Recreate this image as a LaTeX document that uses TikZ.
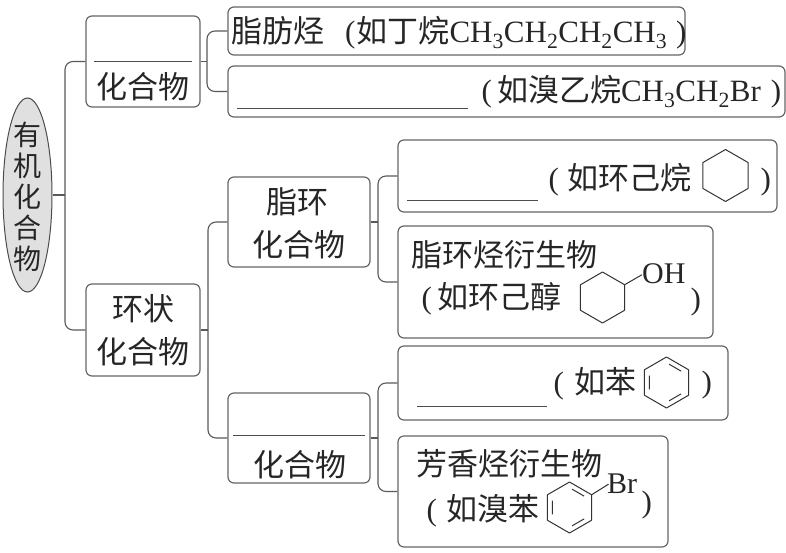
\documentclass[tikz,border=0pt]{standalone}
\usepackage{fontspec}
\setmainfont{Liberation Serif}
\newfontfamily\cjk{Noto Sans CJK SC}
\newcommand{\zh}[1]{{\cjk #1}}
\usetikzlibrary{shapes.geometric}

\begin{document}
\begin{tikzpicture}[x=1pt,y=-1pt,
    box/.style={draw=black!60,line width=1.2pt,rounded corners=6pt,inner sep=0pt},
    link/.style={draw=black!65,line width=1.1pt,rounded corners=8pt},
    txt/.style={inner sep=0pt,text=black!85,font=\fontsize{31}{36}\selectfont},
    blank/.style={draw=black!70,line width=1pt},
    bond/.style={draw=black!80,line width=1pt,line join=round}]
\useasboundingbox (0,0) rectangle (786,552);

% root
\node (org) at (27.5,195) [ellipse,draw=black!70,fill=black!12,line width=1pt,minimum width=49pt,minimum height=194pt,inner sep=0pt] {};
\node (orgtx) at (27.5,196.5) [txt,align=center,font=\cjk\fontsize{28}{31}\selectfont] {有\\机\\化\\合\\物};

% first level
\node (chain) at (143,61.5) [box,minimum width=114pt,minimum height=91pt] {};
\node (ring) at (143,330) [box,minimum width=114pt,minimum height=92pt] {};

% second level
\node (alkane) at (456.5,31) [box,minimum width=457pt,minimum height=48pt] {};
\node (haloalk) at (506.5,91.5) [box,minimum width=557pt,minimum height=51pt] {};
\node (alicyc) at (299,222) [box,minimum width=142pt,minimum height=90pt] {};
\node (arom) at (299,438) [box,minimum width=142pt,minimum height=90pt] {};

% third level
\node (cycalk) at (587.5,176) [box,minimum width=379pt,minimum height=72pt] {};
\node (cycderiv) at (555.5,282) [box,minimum width=315pt,minimum height=112pt] {};
\node (benz) at (563,383) [box,minimum width=330pt,minimum height=74pt] {};
\node (benzderiv) at (533,491.5) [box,minimum width=270pt,minimum height=111pt] {};

% brackets
\coordinate (j0) at (65,195);
\coordinate (j1) at (207,61.5);
\coordinate (j2) at (208,330);
\coordinate (j3) at (378,222);
\coordinate (j4) at (378,438);
\draw[link] (org.east) -- (j0);
\draw[link] (chain.west) -| (j0) |- (ring.west);
\draw[link] (chain.east) -- (j1);
\draw[link] (alkane.west) -| (j1) |- (haloalk.west);
\draw[link] (ring.east) -- (j2);
\draw[link] (alicyc.west) -| (j2) |- (arom.west);
\draw[link] (alicyc.east) -- (j3);
\draw[link] (cycalk.west) -| (j3) |- (cycderiv.west);
\draw[link] (arom.east) -- (j4);
\draw[link] (benz.west) -| (j4) |- (benzderiv.west);

% blanks
\draw[blank] (94,61.7) -- (192,61.7);
\draw[blank] (237,108.3) -- (468,108.3);
\draw[blank] (407,200) -- (538,200);
\draw[blank] (233,435.7) -- (365,435.7);
\draw[blank] (417,406.7) -- (547,406.7);

% texts
\node (chaintx) at (143,98.5) [txt,anchor=base] {\zh{化合物}};
\node (ringtx1) at (143.5,320.5) [txt,anchor=base] {\zh{环状}};
\node (ringtx2) at (142.5,363.5) [txt,anchor=base] {\zh{化合物}};
\node (alicyctx1) at (297.5,213.5) [txt,anchor=base] {\zh{脂环}};
\node (alicyctx2) at (299,256.5) [txt,anchor=base] {\zh{化合物}};
\node (aromtx) at (300,476.5) [txt,anchor=base] {\zh{化合物}};
\node (alkanetx) at (231,42.5) [txt,anchor=base west] {\zh{脂肪烃}\kern21pt(\kern1pt\zh{如丁烷}CH\textsubscript{3}CH\textsubscript{2}CH\textsubscript{2}CH\textsubscript{3}\kern9pt)};
\node (haloalktx) at (481.5,101.5) [txt,anchor=base west] {(\kern5pt\zh{如溴乙烷}CH\textsubscript{3}CH\textsubscript{2}Br\kern10pt)};
\node (cycalktx) at (548.5,189.5) [txt,anchor=base west] {(\kern8pt\zh{如环己烷}};
\node (cycalkpr) at (760.5,189.5) [txt,anchor=base west] {)};
\node (cycderivtx1) at (411,266.5) [txt,anchor=base west] {\zh{脂环烃衍生物}};
\node (cycderivtx2) at (421.5,308.5) [txt,anchor=base west] {(\kern5pt\zh{如环己醇}};
\node (cycderivpr) at (690.5,309) [txt,anchor=base west] {)};
\node (ohtx) at (642,283) [txt,anchor=base west,font=\fontsize{30}{34}\selectfont] {OH};
\node (benztx) at (553.5,393) [txt,anchor=base west] {(\kern10pt\zh{如苯}};
\node (benzpr) at (701.5,392) [txt,anchor=base west] {)};
\node (benzderivtx1) at (416,475.5) [txt,anchor=base west] {\zh{芳香烃衍生物}};
\node (benzderivtx2) at (426.5,520.5) [txt,anchor=base west] {(\kern9pt\zh{如溴苯}};
\node (benzderivpr) at (641.5,512) [txt,anchor=base west] {)};
\node (brtx) at (607,493) [txt,anchor=base west,font=\fontsize{30}{34}\selectfont] {Br};

% rings
\coordinate (hexC) at (725.5,175.5);
\coordinate (hexD) at (602.5,297.5);
\coordinate (hexE) at (666.5,382.5);
\coordinate (hexF) at (569.5,507.5);
\draw[bond] (hexC) +(-90:26) -- +(-30:26) -- +(30:26) -- +(90:26) -- +(150:26) -- +(210:26) -- cycle;
\draw[bond] (hexD) +(-90:25.5) -- +(-30:25.5) -- +(30:25.5) -- +(90:25.5) -- +(150:25.5) -- +(210:25.5) -- cycle;
\draw[bond] (hexD) ++(-30:25.5) -- ++(-30:20);
\draw[bond] (hexE) +(-90:25.5) -- +(-30:25.5) -- +(30:25.5) -- +(90:25.5) -- +(150:25.5) -- +(210:25.5) -- cycle;
\draw[bond] (hexE) +(-82:18.5) -- +(-38:18.5) (hexE) +(38:18.5) -- +(82:18.5) (hexE) +(158:18.5) -- +(202:18.5);
\draw[bond] (hexF) +(-90:25.5) -- +(-30:25.5) -- +(30:25.5) -- +(90:25.5) -- +(150:25.5) -- +(210:25.5) -- cycle;
\draw[bond] (hexF) +(-82:18.5) -- +(-38:18.5) (hexF) +(38:18.5) -- +(82:18.5) (hexF) +(158:18.5) -- +(202:18.5);
\draw[bond] (hexF) ++(-30:25.5) -- ++(-32:20);
\end{tikzpicture}
\end{document}
